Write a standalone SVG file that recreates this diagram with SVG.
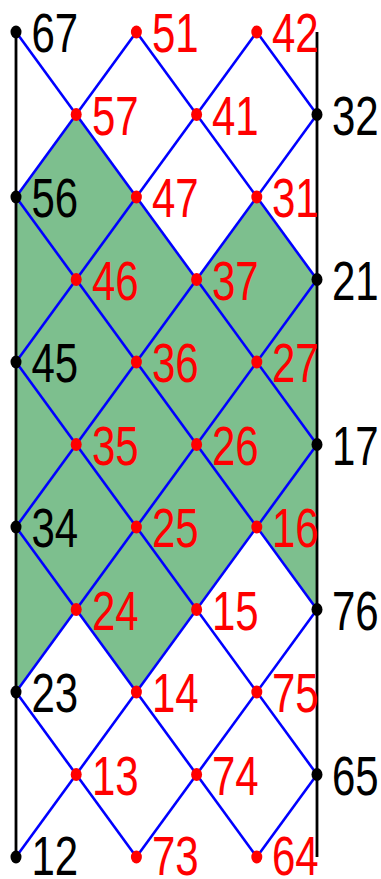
<svg xmlns="http://www.w3.org/2000/svg" width="381" height="879" viewBox="0 0 381 879">
<style>
.lbl{font-family:"Liberation Sans",Arial,sans-serif;font-size:42px}
.k{fill:#000}
.r{fill:#ff0000}
.edge{stroke:#0000ff;stroke-width:2.6;fill:none}
.side{stroke:#000;stroke-width:2.8;fill:none}
</style>
<rect width="381" height="879" fill="#fff"/>
<polygon id="shaded" points="76.2,114.5 136.4,197 196.6,279.5 256.8,197 317,279.5 317,609.5 256.8,527 196.6,609.5 136.4,692 76.2,609.5 16,692 16,197" fill="#7dbf8e"/>
<g id="connectors">
<line class="side" x1="16" y1="32" x2="16" y2="857"/>
<line class="side" x1="317" y1="32" x2="317" y2="857"/>
<line class="edge" x1="16" y1="32" x2="317" y2="444.5"/>
<line class="edge" x1="16" y1="197" x2="317" y2="609.5"/>
<line class="edge" x1="16" y1="362" x2="317" y2="774.5"/>
<line class="edge" x1="16" y1="527" x2="256.8" y2="857"/>
<line class="edge" x1="16" y1="692" x2="136.4" y2="857"/>
<line class="edge" x1="136.4" y1="32" x2="317" y2="279.5"/>
<line class="edge" x1="256.8" y1="32" x2="317" y2="114.5"/>
<line class="edge" x1="136.4" y1="32" x2="16" y2="197"/>
<line class="edge" x1="256.8" y1="32" x2="16" y2="362"/>
<line class="edge" x1="317" y1="114.5" x2="16" y2="527"/>
<line class="edge" x1="317" y1="279.5" x2="16" y2="692"/>
<line class="edge" x1="317" y1="444.5" x2="16" y2="857"/>
<line class="edge" x1="317" y1="609.5" x2="136.4" y2="857"/>
<line class="edge" x1="317" y1="774.5" x2="256.8" y2="857"/>
</g>
<g id="n67"><ellipse class="k" cx="16" cy="32" rx="5.5" ry="6.5"/><text class="lbl k" transform="translate(31.5,52) scale(1,1.3)">67</text></g>
<g id="n51"><ellipse class="r" cx="136.4" cy="32" rx="5.5" ry="6.5"/><text class="lbl r" transform="translate(152,52) scale(1,1.3)">51</text></g>
<g id="n42"><ellipse class="r" cx="256.8" cy="32" rx="5.5" ry="6.5"/><text class="lbl r" transform="translate(272,52) scale(1,1.3)">42</text></g>
<g id="n57"><ellipse class="r" cx="76.2" cy="114.5" rx="5.5" ry="6.5"/><text class="lbl r" transform="translate(92,134.5) scale(1,1.3)">57</text></g>
<g id="n41"><ellipse class="r" cx="196.6" cy="114.5" rx="5.5" ry="6.5"/><text class="lbl r" transform="translate(212,134.5) scale(1,1.3)">41</text></g>
<g id="n32"><ellipse class="k" cx="317" cy="114.5" rx="5.5" ry="6.5"/><text class="lbl k" transform="translate(332,134.5) scale(1,1.3)">32</text></g>
<g id="n56"><ellipse class="k" cx="16" cy="197" rx="5.5" ry="6.5"/><text class="lbl k" transform="translate(31.5,217) scale(1,1.3)">56</text></g>
<g id="n47"><ellipse class="r" cx="136.4" cy="197" rx="5.5" ry="6.5"/><text class="lbl r" transform="translate(152,217) scale(1,1.3)">47</text></g>
<g id="n31"><ellipse class="r" cx="256.8" cy="197" rx="5.5" ry="6.5"/><text class="lbl r" transform="translate(272,217) scale(1,1.3)">31</text></g>
<g id="n46"><ellipse class="r" cx="76.2" cy="279.5" rx="5.5" ry="6.5"/><text class="lbl r" transform="translate(92,299.5) scale(1,1.3)">46</text></g>
<g id="n37"><ellipse class="r" cx="196.6" cy="279.5" rx="5.5" ry="6.5"/><text class="lbl r" transform="translate(212,299.5) scale(1,1.3)">37</text></g>
<g id="n21"><ellipse class="k" cx="317" cy="279.5" rx="5.5" ry="6.5"/><text class="lbl k" transform="translate(332,299.5) scale(1,1.3)">21</text></g>
<g id="n45"><ellipse class="k" cx="16" cy="362" rx="5.5" ry="6.5"/><text class="lbl k" transform="translate(31.5,382) scale(1,1.3)">45</text></g>
<g id="n36"><ellipse class="r" cx="136.4" cy="362" rx="5.5" ry="6.5"/><text class="lbl r" transform="translate(152,382) scale(1,1.3)">36</text></g>
<g id="n27"><ellipse class="r" cx="256.8" cy="362" rx="5.5" ry="6.5"/><text class="lbl r" transform="translate(272,382) scale(1,1.3)">27</text></g>
<g id="n35"><ellipse class="r" cx="76.2" cy="444.5" rx="5.5" ry="6.5"/><text class="lbl r" transform="translate(92,464.5) scale(1,1.3)">35</text></g>
<g id="n26"><ellipse class="r" cx="196.6" cy="444.5" rx="5.5" ry="6.5"/><text class="lbl r" transform="translate(212,464.5) scale(1,1.3)">26</text></g>
<g id="n17"><ellipse class="k" cx="317" cy="444.5" rx="5.5" ry="6.5"/><text class="lbl k" transform="translate(332,464.5) scale(1,1.3)">17</text></g>
<g id="n34"><ellipse class="k" cx="16" cy="527" rx="5.5" ry="6.5"/><text class="lbl k" transform="translate(31.5,547) scale(1,1.3)">34</text></g>
<g id="n25"><ellipse class="r" cx="136.4" cy="527" rx="5.5" ry="6.5"/><text class="lbl r" transform="translate(152,547) scale(1,1.3)">25</text></g>
<g id="n16"><ellipse class="r" cx="256.8" cy="527" rx="5.5" ry="6.5"/><text class="lbl r" transform="translate(272,547) scale(1,1.3)">16</text></g>
<g id="n24"><ellipse class="r" cx="76.2" cy="609.5" rx="5.5" ry="6.5"/><text class="lbl r" transform="translate(92,629.5) scale(1,1.3)">24</text></g>
<g id="n15"><ellipse class="r" cx="196.6" cy="609.5" rx="5.5" ry="6.5"/><text class="lbl r" transform="translate(212,629.5) scale(1,1.3)">15</text></g>
<g id="n76"><ellipse class="k" cx="317" cy="609.5" rx="5.5" ry="6.5"/><text class="lbl k" transform="translate(332,629.5) scale(1,1.3)">76</text></g>
<g id="n23"><ellipse class="k" cx="16" cy="692" rx="5.5" ry="6.5"/><text class="lbl k" transform="translate(31.5,712) scale(1,1.3)">23</text></g>
<g id="n14"><ellipse class="r" cx="136.4" cy="692" rx="5.5" ry="6.5"/><text class="lbl r" transform="translate(152,712) scale(1,1.3)">14</text></g>
<g id="n75"><ellipse class="r" cx="256.8" cy="692" rx="5.5" ry="6.5"/><text class="lbl r" transform="translate(272,712) scale(1,1.3)">75</text></g>
<g id="n13"><ellipse class="r" cx="76.2" cy="774.5" rx="5.5" ry="6.5"/><text class="lbl r" transform="translate(92,794.5) scale(1,1.3)">13</text></g>
<g id="n74"><ellipse class="r" cx="196.6" cy="774.5" rx="5.5" ry="6.5"/><text class="lbl r" transform="translate(212,794.5) scale(1,1.3)">74</text></g>
<g id="n65"><ellipse class="k" cx="317" cy="774.5" rx="5.5" ry="6.5"/><text class="lbl k" transform="translate(332,794.5) scale(1,1.3)">65</text></g>
<g id="n12"><ellipse class="k" cx="16" cy="857" rx="5.5" ry="6.5"/><text class="lbl k" transform="translate(31.5,874.5) scale(1,1.3)">12</text></g>
<g id="n73"><ellipse class="r" cx="136.4" cy="857" rx="5.5" ry="6.5"/><text class="lbl r" transform="translate(152,874.5) scale(1,1.3)">73</text></g>
<g id="n64"><ellipse class="r" cx="256.8" cy="857" rx="5.5" ry="6.5"/><text class="lbl r" transform="translate(272,874.5) scale(1,1.3)">64</text></g>
</svg>
